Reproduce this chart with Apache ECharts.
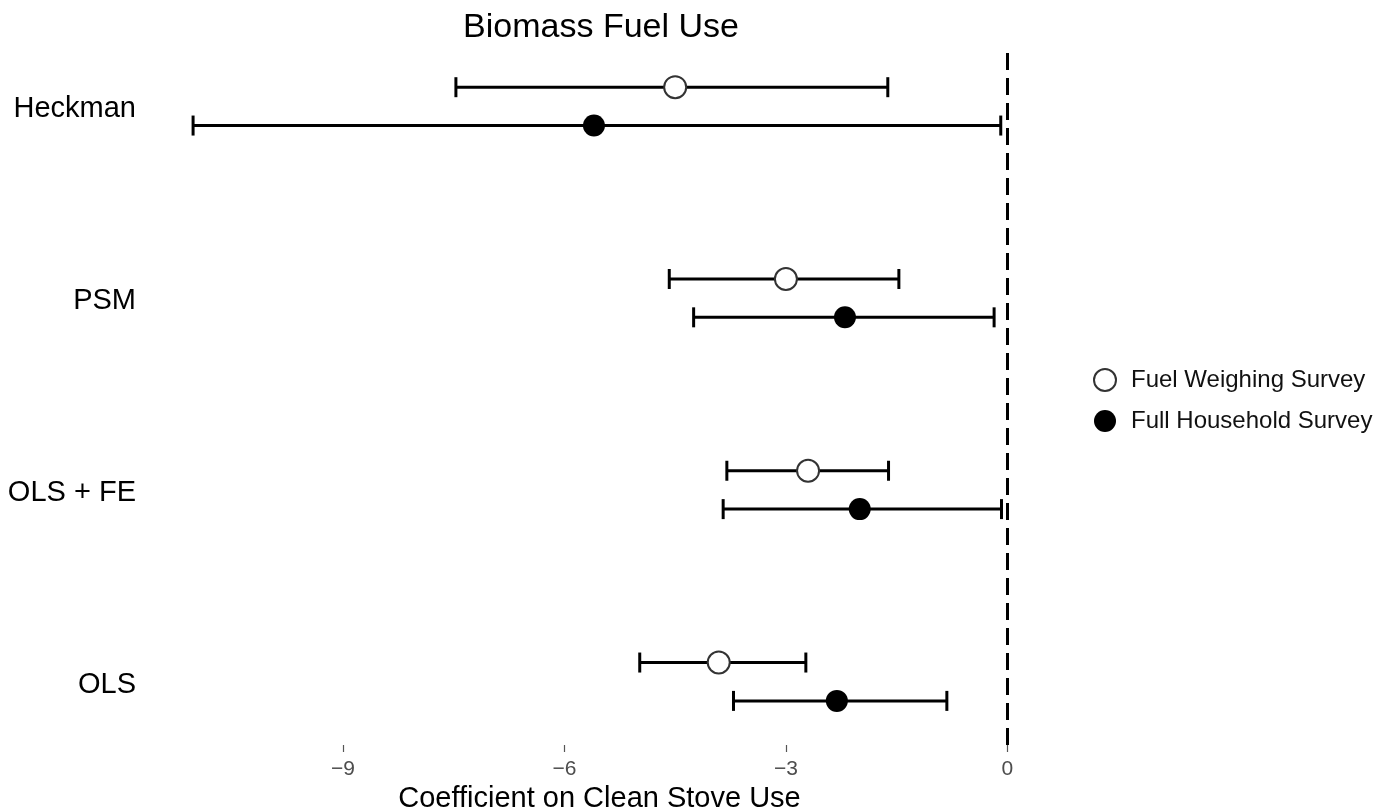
<!DOCTYPE html>
<html>
<head>
<meta charset="utf-8">
<script src="https://cdn.jsdelivr.net/npm/echarts@6/dist/echarts.min.js"></script>
<style>
html,body{margin:0;padding:0;background:#fff;}
#chart{width:1389px;height:811px;}
</style>
</head>
<body>
<div id="chart"></div>
<script>
// Categories from bottom to top
var categories = ['OLS', 'OLS + FE', 'PSM', 'Heckman'];
var seriesNames = ['Fuel Weighing Survey', 'Full Household Survey'];
// Fuel Weighing Survey
var fwEst  = [-3.91, -2.70, -3.00, -4.50];
var fwLow  = [-4.98, -3.80, -4.58, -7.47];
var fwHigh = [-2.73, -1.61, -1.47, -1.62];
// Full Household Survey
var fullEst  = [-2.31, -2.00, -2.20, -5.60];
var fullLow  = [-3.71, -3.85, -4.25, -11.03];
var fullHigh = [-0.82, -0.08, -0.18, -0.09];
// x-axis ticks
var xTicks = [-9, -6, -3, 0];

var FONT = "'Liberation Sans', Arial, sans-serif";
var DODGE = 0.1;

function pts(est, off) {
  return est.map(function (v, i) { return [v, i + 1 + off]; });
}
function bars(lo, hi, off) {
  return lo.map(function (v, i) { return [v, hi[i], i + 1 + off]; });
}
function renderBar(params, api) {
  var a = api.coord([api.value(0), api.value(2)]);
  var b = api.coord([api.value(1), api.value(2)]);
  var cap = 10;
  var st = { stroke: '#000', lineWidth: 3 };
  return {
    type: 'group',
    children: [
      { type: 'line', shape: { x1: a[0], y1: a[1], x2: b[0], y2: b[1] }, style: st },
      { type: 'line', shape: { x1: a[0], y1: a[1] - cap, x2: a[0], y2: a[1] + cap }, style: st },
      { type: 'line', shape: { x1: b[0], y1: b[1] - cap, x2: b[0], y2: b[1] + cap }, style: st }
    ]
  };
}

var chart = echarts.init(document.getElementById('chart'), null, { renderer: 'canvas' });
chart.setOption({
  animation: false,
  backgroundColor: '#fff',
  title: {
    text: 'Biomass Fuel Use',
    left: 601, top: 11, textAlign: 'center', padding: 0,
    textStyle: { fontFamily: FONT, fontSize: 34, fontWeight: 'normal', color: '#000' }
  },
  legend: {
    orient: 'vertical',
    left: 1093, top: 368, padding: 0,
    itemWidth: 22, itemHeight: 22, itemGap: 17,
    textStyle: { fontFamily: FONT, fontSize: 24, color: '#111', padding: [0, 0, 0, 10] },
    data: [
      { name: seriesNames[0], icon: 'circle', itemStyle: { color: '#fff', borderColor: '#333', borderWidth: 2 } },
      { name: seriesNames[1], icon: 'circle', itemStyle: { color: '#000', borderWidth: 0 } }
    ]
  },
  grid: { left: 151, right: 341, top: 45, bottom: 66, outerBoundsMode: 'none', containLabel: false },
  xAxis: {
    type: 'value',
    min: -11.6, max: 0.55,
    axisLine: { show: false },
    splitLine: { show: false },
    axisTick: { show: true, customValues: xTicks, length: 7, lineStyle: { color: '#555', width: 1.2 } },
    axisLabel: {
      customValues: xTicks, margin: 14,
      fontFamily: FONT, fontSize: 21, color: '#4d4d4d',
      formatter: function (v) { return String(v).replace('-', '\u2212'); }
    },
    name: 'Coefficient on Clean Stove Use',
    nameLocation: 'middle', nameGap: 35,
    nameTextStyle: { fontFamily: FONT, fontSize: 29, color: '#000' }
  },
  yAxis: {
    type: 'value',
    min: 0.67, max: 4.32,
    axisLine: { show: false },
    axisTick: { show: false },
    splitLine: { show: false },
    axisLabel: {
      customValues: [1, 2, 3, 4], margin: 15,
      fontFamily: FONT, fontSize: 29, color: '#000',
      formatter: function (v) { return '{c|' + categories[Math.round(v) - 1] + '}'; },
      rich: {
        c: { fontFamily: FONT, fontSize: 29, color: '#000', padding: [6, 0, 0, 0] }
      }
    }
  },
  series: [
    {
      type: 'custom', name: 'fwBars', renderItem: renderBar,
      encode: { x: [0, 1], y: 2 }, data: bars(fwLow, fwHigh, DODGE), z: 2, silent: true
    },
    {
      type: 'custom', name: 'fullBars', renderItem: renderBar,
      encode: { x: [0, 1], y: 2 }, data: bars(fullLow, fullHigh, -DODGE), z: 2, silent: true,
      markLine: {
        silent: true, symbol: 'none', label: { show: false },
        lineStyle: { color: '#000', width: 3, type: [17, 8] },
        data: [{ xAxis: 0 }]
      }
    },
    {
      type: 'scatter', name: seriesNames[0], data: pts(fwEst, DODGE),
      symbol: 'circle', symbolSize: 22, z: 5,
      itemStyle: { color: '#fff', borderColor: '#333', borderWidth: 2, opacity: 1 }
    },
    {
      type: 'scatter', name: seriesNames[1], data: pts(fullEst, -DODGE),
      symbol: 'circle', symbolSize: 22, z: 5,
      itemStyle: { color: '#000', opacity: 1 }
    }
  ]
});
</script>
</body>
</html>
